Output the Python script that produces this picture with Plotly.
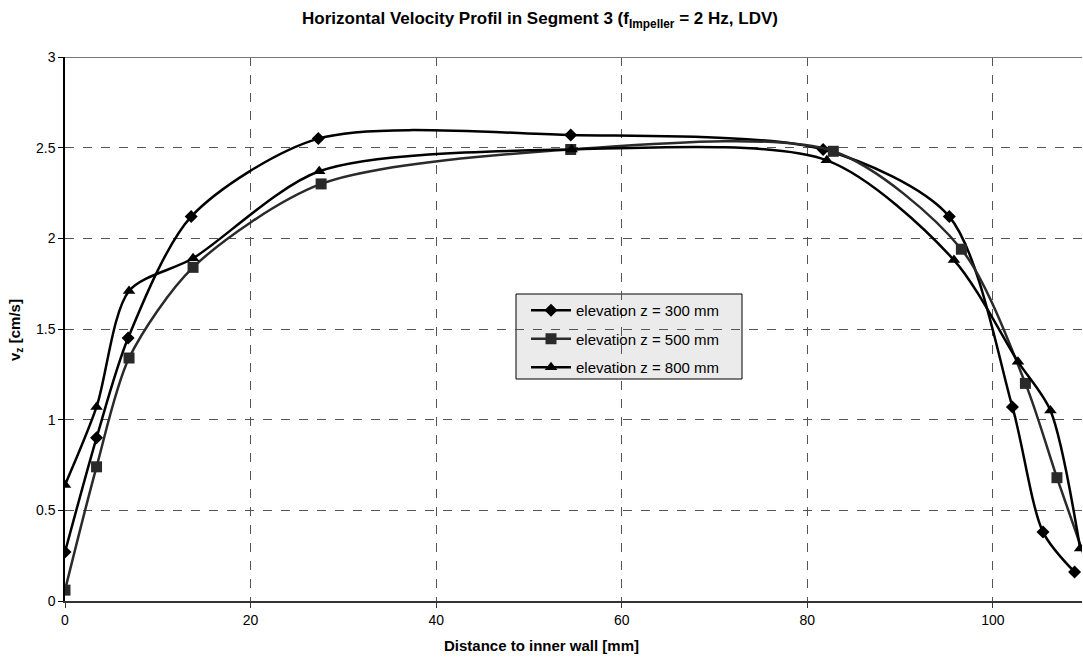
import plotly.graph_objects as go

# Data
x_300 = [0, 3.4, 6.8, 13.6, 27.3, 54.5, 81.7, 95.3, 102.1, 105.4, 108.8]
v_300 = [0.27, 0.90, 1.45, 2.12, 2.55, 2.57, 2.49, 2.12, 1.07, 0.38, 0.16]

x_500 = [0, 3.4, 6.9, 13.8, 27.6, 54.5, 82.8, 96.6, 103.5, 106.9, 110.3]
v_500 = [0.06, 0.74, 1.34, 1.84, 2.30, 2.49, 2.48, 1.94, 1.20, 0.68, 0.18]

x_800 = [0, 3.4, 6.9, 13.8, 27.4, 54.6, 82.1, 95.8, 102.7, 106.2, 109.4]
v_800 = [0.64, 1.07, 1.71, 1.89, 2.37, 2.49, 2.43, 1.88, 1.32, 1.05, 0.29]

names = ["elevation z = 300 mm", "elevation z = 500 mm", "elevation z = 800 mm"]
xs = [x_300, x_500, x_800]
ys = [v_300, v_500, v_800]
symbols = ["diamond", "square", "triangle-up"]
colors = ["#000000", "#2a2a2a", "#000000"]
msizes = [10, 11, 11]

x_ticks = [0, 20, 40, 60, 80, 100]
y_ticks = [0, 0.5, 1, 1.5, 2, 2.5, 3]

fig = go.Figure()
for i in range(3):
    fig.add_trace(go.Scatter(
        x=xs[i], y=ys[i], name=names[i], mode="lines+markers",
        line=dict(color=colors[i], width=2.5, shape="spline", smoothing=0.8),
        marker=dict(symbol=symbols[i], size=msizes[i], color=colors[i]),
        legendgroup=str(i),
    ))

W, H = 1083, 659
L, R, T, B = 65, 1082, 57, 601


def px_x(p):
    return (p - L) / (R - L)


def px_y(p):
    return (B - p) / (B - T)


font = "Liberation Sans, Arial, sans-serif"
fig.update_layout(
    width=W, height=H,
    margin=dict(l=L, r=W - R, t=T, b=H - B),
    paper_bgcolor="white", plot_bgcolor="white",
    font=dict(family=font, size=14, color="black"),
    title=dict(
        text="<b>Horizontal Velocity Profil in Segment 3 (f<sub>Impeller</sub> = 2 Hz, LDV)</b>",
        x=540 / W, xanchor="center", y=1 - 18 / H, yanchor="middle", yref="container",
        font=dict(family=font, size=17, color="black"),
    ),
    showlegend=True,
    legend=dict(
        x=px_x(526), y=px_y(294), xanchor="left", yanchor="top",
        bgcolor="rgba(0,0,0,0)", borderwidth=0,
        font=dict(family=font, size=15, color="black"),
        tracegroupgap=6, itemwidth=40,
    ),
    xaxis=dict(
        range=[0, 109.6], tickvals=x_ticks, ticktext=[str(t) for t in x_ticks],
        showgrid=True, gridcolor="#555555", griddash="dash", gridwidth=1,
        zeroline=False, showline=True, linecolor="#333333", linewidth=2,
        ticks="outside", ticklen=5, tickcolor="#333333", automargin=False,
        tickfont=dict(size=14),
    ),
    yaxis=dict(
        range=[0, 3], tickvals=y_ticks, ticktext=["0", "0.5", "1", "1.5", "2", "2.5", "3"],
        showgrid=True, gridcolor="#555555", griddash="dash", gridwidth=1,
        zeroline=False, showline=True, linecolor="black", linewidth=1.5,
        ticks="outside", ticklen=5, tickcolor="black", automargin=False,
        tickfont=dict(size=14),
    ),
    annotations=[
        dict(text="<b>Distance to inner wall [mm]</b>", xref="paper", yref="paper",
             x=px_x(541), y=px_y(645), xanchor="center", yanchor="middle",
             showarrow=False, font=dict(size=15)),
        dict(text="<b>v<sub>z</sub> [cm/s]</b>", xref="paper", yref="paper",
             x=px_x(15), y=px_y(330), xanchor="center", yanchor="middle",
             textangle=-90, showarrow=False, font=dict(size=15)),
    ],
)
# top border of plot area
fig.add_shape(type="line", xref="paper", yref="y", x0=0, x1=1, y0=3, y1=3,
              line=dict(color="#777777", width=2))
# legend box
fig.add_shape(type="rect", xref="paper", yref="paper", layer="between",
              x0=px_x(516), x1=px_x(742), y0=px_y(379), y1=px_y(294),
              fillcolor="#ebebeb", line=dict(color="black", width=1))

fig.write_html("out.html", config={"displayModeBar": False},
               post_script="document.body.style.margin='0';document.body.style.overflow='hidden';")
